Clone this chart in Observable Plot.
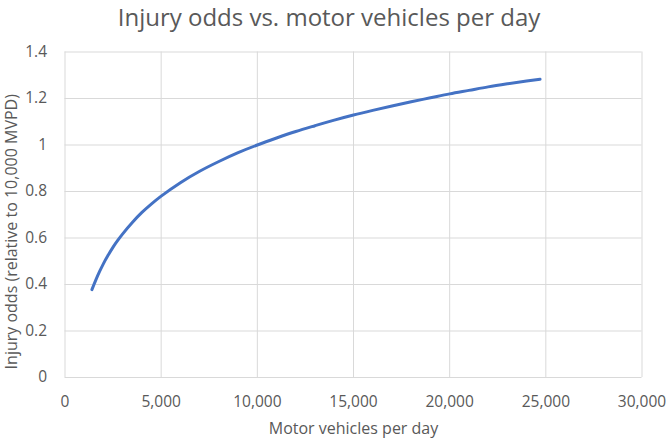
<!DOCTYPE html>
<html>
<head>
<meta charset="utf-8">
<script src="https://cdn.jsdelivr.net/npm/d3@7"></script>
<script src="https://cdn.jsdelivr.net/npm/@observablehq/plot@0.6"></script>
<style>
  html, body { margin: 0; padding: 0; background: #fff; }
  #title { width: 666px; height: 34px; line-height: 33px; text-align: center; font-family: "Open Sans", sans-serif; font-size: 24px; color: #595959; box-sizing: border-box; padding-right: 8px; white-space: nowrap; overflow: visible; }
</style>
</head>
<body>
<div id="title">Injury odds vs. motor vehicles per day</div>
<div id="chart"></div>
<script>
const vehiclesPerDay = [1400, 1600, 1800, 2000, 2250, 2500, 2750, 3000, 3500, 4000, 4500, 5000, 6000, 7000, 8000, 9000, 10000, 11000, 12000, 13000, 14000, 15000, 16000, 17000, 18000, 19000, 20000, 21000, 22000, 23000, 24000, 24700];
const injuryOdds =     [0.378, 0.419, 0.456, 0.490, 0.527, 0.561, 0.591, 0.618, 0.667, 0.710, 0.747, 0.780, 0.838, 0.887, 0.929, 0.967, 1.000, 1.030, 1.058, 1.083, 1.107, 1.129, 1.149, 1.168, 1.186, 1.203, 1.220, 1.235, 1.250, 1.263, 1.275, 1.283];
const xTicks = [0, 5000, 10000, 15000, 20000, 25000, 30000];
const yTicks = [0, 0.2, 0.4, 0.6, 0.8, 1, 1.2, 1.4];
const xTitle = "Motor vehicles per day";
const yTitle = "Injury odds (relative to 10,000 MVPD)";

const data = vehiclesPerDay.map((v, i) => ({x: v, y: injuryOdds[i]}));
const font = "'Open Sans', sans-serif";
const grey = "#595959";

const chart = Plot.plot({
  width: 666,
  height: 406,
  marginTop: 17.5,
  marginBottom: 63,
  marginLeft: 64.5,
  marginRight: 24.5,
  style: {fontFamily: font, fontSize: "15.5px", color: grey, background: "#fff", overflow: "visible"},
  x: {domain: [0, 30000]},
  y: {domain: [0, 1.4]},
  marks: [
    Plot.gridX(xTicks, {stroke: "#d9d9d9", strokeOpacity: 1, strokeWidth: 1}),
    Plot.gridY(yTicks, {stroke: "#d9d9d9", strokeOpacity: 1, strokeWidth: 1}),
    Plot.axisX({ticks: xTicks, tickFormat: d3.format(","), tickSize: 0, tickPadding: 18, label: null, fill: grey}),
    Plot.axisY({ticks: yTicks, tickFormat: d => String(+d.toFixed(1)), tickSize: 0, tickPadding: 18, label: null, fill: grey}),
    Plot.line(data, {x: "x", y: "y", stroke: "#4472C4", strokeWidth: 3, curve: "monotone-x", strokeLinecap: "round"}),
    Plot.text([xTitle], {frameAnchor: "bottom", dy: 51, lineAnchor: "middle", textAnchor: "middle", fontSize: 16, fill: grey, text: d => d}),
    Plot.text([yTitle], {frameAnchor: "left", dx: -53.5, dy: 17, rotate: -90, lineAnchor: "middle", textAnchor: "middle", fontSize: 16, fill: grey, text: d => d})
  ]
});
document.getElementById("chart").appendChild(chart);
</script>
</body>
</html>
